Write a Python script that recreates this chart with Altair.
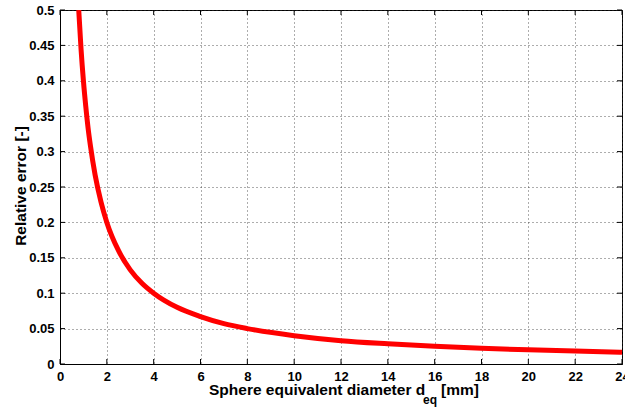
import altair as alt
import pandas as pd

# values
diam = [0.8, 0.9, 1.0, 1.1, 1.2, 1.3, 1.5, 1.75, 2.0, 2.5, 3.0, 3.5, 4.0, 5.0, 6.0, 7.0, 8.0,
        10.0, 12.0, 14.0, 16.0, 18.0, 20.0, 22.0, 24.0]
rel_err = [0.5, 0.444, 0.4, 0.364, 0.333, 0.308, 0.267, 0.229, 0.2, 0.16, 0.133, 0.114, 0.1,
           0.08, 0.067, 0.057, 0.05, 0.04, 0.033, 0.0286, 0.025, 0.0222, 0.02, 0.0182, 0.0167]
x_ticks = [0, 2, 4, 6, 8, 10, 12, 14, 16, 18, 20, 22, 24]
y_ticks = [0, 0.05, 0.1, 0.15, 0.2, 0.25, 0.3, 0.35, 0.4, 0.45, 0.5]

W, H = 562, 354
FONT = "Liberation Sans"

df = pd.DataFrame({"d": diam, "e": rel_err})
xt = pd.DataFrame({"t": x_ticks})
yt = pd.DataFrame({"t": y_ticks})

xs = alt.Scale(domain=[0, 24], nice=False)
ys = alt.Scale(domain=[0, 0.5], nice=False)

common = dict(title=None, grid=True, gridDash=[1, 3], gridColor="#333", gridOpacity=0.8,
              tickSize=0, labelPadding=6, labelFont=FONT, labelFontWeight="bold",
              labelFontSize=13, labelColor="#000", domainColor="#000", labelFlush=False,
              labelOverlap=False, format="~g")
xaxis = alt.Axis(values=x_ticks, **common)
yaxis = alt.Axis(values=y_ticks, **common)

line = alt.Chart(df).mark_line(color="#ff0000", strokeWidth=5, interpolate="monotone", clip=True).encode(
    x=alt.X("d:Q", scale=xs, axis=xaxis),
    y=alt.Y("e:Q", scale=ys, axis=yaxis),
)

tk = dict(color="#000", strokeWidth=1)
top_ticks = alt.Chart(xt).mark_rule(**tk).encode(x=alt.X("t:Q", scale=xs, axis=xaxis), y=alt.value(0), y2=alt.value(5))
bot_ticks = alt.Chart(xt).mark_rule(**tk).encode(x=alt.X("t:Q", scale=xs, axis=xaxis), y=alt.value(H), y2=alt.value(H - 5))
left_ticks = alt.Chart(yt).mark_rule(**tk).encode(y=alt.Y("t:Q", scale=ys, axis=yaxis), x=alt.value(0), x2=alt.value(5))
right_ticks = alt.Chart(yt).mark_rule(**tk).encode(y=alt.Y("t:Q", scale=ys, axis=yaxis), x=alt.value(W), x2=alt.value(W - 5))

tfont = dict(font=FONT, fontWeight="bold", fontSize=15.5, color="#000")
t1 = alt.Chart(pd.DataFrame({"s": ["Sphere equivalent diameter d"]})).mark_text(align="left", baseline="alphabetic", **tfont).encode(
    text="s:N", x=alt.value(149), y=alt.value(H + 31))
t2 = alt.Chart(pd.DataFrame({"s": ["eq"]})).mark_text(align="left", baseline="alphabetic", font=FONT, fontWeight="bold", fontSize=12, color="#000").encode(
    text="s:N", x=alt.value(363), y=alt.value(H + 40))
t3 = alt.Chart(pd.DataFrame({"s": ["[mm]"]})).mark_text(align="left", baseline="alphabetic", **tfont).encode(
    text="s:N", x=alt.value(381), y=alt.value(H + 31))
t4 = alt.Chart(pd.DataFrame({"s": ["Relative error [-]"]})).mark_text(align="center", baseline="alphabetic", angle=270, **tfont).encode(
    text="s:N", x=alt.value(-34), y=alt.value(176))

chart = alt.layer(line, top_ticks, bot_ticks, left_ticks, right_ticks, t1, t2, t3, t4).properties(
    width=W, height=H,
    autosize=alt.AutoSizeParams(type="none"),
    padding={"left": 60, "top": 10, "right": 3, "bottom": 44},
    background="white",
).configure_view(stroke="#000", strokeWidth=1)

chart.save("out.html", embed_options={"renderer": "svg", "actions": False})
